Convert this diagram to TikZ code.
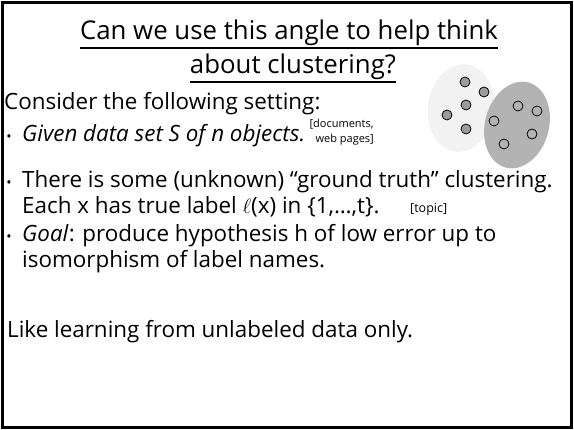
\documentclass[tikz,border=0pt]{standalone}
\usepackage{fontspec}
\setmainfont{Open Sans}
\definecolor{clustA}{HTML}{F2F2F2}
\definecolor{clustB}{HTML}{B3B3B3}
\definecolor{dotA}{HTML}{9C9C9C}
\begin{document}
\begin{tikzpicture}[x=1pt,y=-1pt,
  txt/.style={anchor=base west,inner sep=0pt,font=\fontsize{22.4}{26}\selectfont},
  ttl/.style={anchor=base,inner sep=0pt,font=\fontsize{25.8}{30}\selectfont},
  small/.style={anchor=base west,inner sep=0pt,font=\fontsize{11}{13}\selectfont},
  bul/.style={anchor=base,inner sep=0pt,font=\fontsize{14}{16}\selectfont},
  uline/.style={line width=2.8pt},
  dotpt/.style={circle,draw=black,line width=0.8pt,minimum size=10pt,inner sep=0pt}]
\useasboundingbox (0,0) rectangle (574,430);
\fill[white] (0,0) rectangle (574,430);
\draw[line width=2.5pt] (2.5,2.5) rectangle (571.5,427.5);

% title
\node[ttl] (t1) at (289,40) {Can we use this angle to help think};
\node[ttl] (t2) at (293,74) {about clustering?};
\draw[uline] ([yshift=-8pt]t1.base west) -- ([yshift=-8pt]t1.base east);
\draw[uline] ([yshift=-8pt]t2.base west) -- ([yshift=-8pt]t2.base east);

% two clusters
\fill[clustA, rotate around={-8:(461,108)}] (461,108) ellipse [x radius=33pt, y radius=44pt];
\fill[clustB, rotate around={-15:(517,125)}] (517,125) ellipse [x radius=32pt, y radius=44pt];
\foreach \p [count=\i] in {(465,82),(484,92),(466,105),(447,115),(466,129)}
  \node[dotpt,fill=dotA] (a\i) at \p {};
\foreach \p [count=\i] in {(518,106),(537,111),(494,121),(532,134),(504,144)}
  \node[dotpt,fill=clustB] (b\i) at \p {};

% body
\node[txt] (cons) at (4,110) {Consider the following setting:};
\node[bul] (b1) at (9,142) {•};
\node[txt,font=\fontsize{22.4}{26}\selectfont\itshape] (l1) at (22,142) {Given data set S of n objects.};
\node[small] (doc1) at (l1.base east) [xshift=4pt,yshift=14pt] {[documents,};
\node[small] (doc2) at (l1.base east) [xshift=10pt,yshift=-1pt] {web pages]};
\node[bul] (b2) at (9,188) {•};
\node[txt] (l2) at (22,188) {There is some (unknown) “ground truth” clustering.};
\node[txt] (l3) at (22,214) {Each x has true label $\ell$(x) in \{1,…,t\}.};
\node[small,font=\fontsize{12.5}{14}\selectfont] (topic) at (410,213) {[topic]};
\node[bul] (b3) at (9,242) {•};
\node[txt] (l4) at (22,242) {\textit{Goal}: produce hypothesis h of low error up to};
\node[txt] (l5) at (22,268) {isomorphism of label names.};
\node[txt] (like) at (7,338) {Like learning from unlabeled data only.};
\end{tikzpicture}
\end{document}
